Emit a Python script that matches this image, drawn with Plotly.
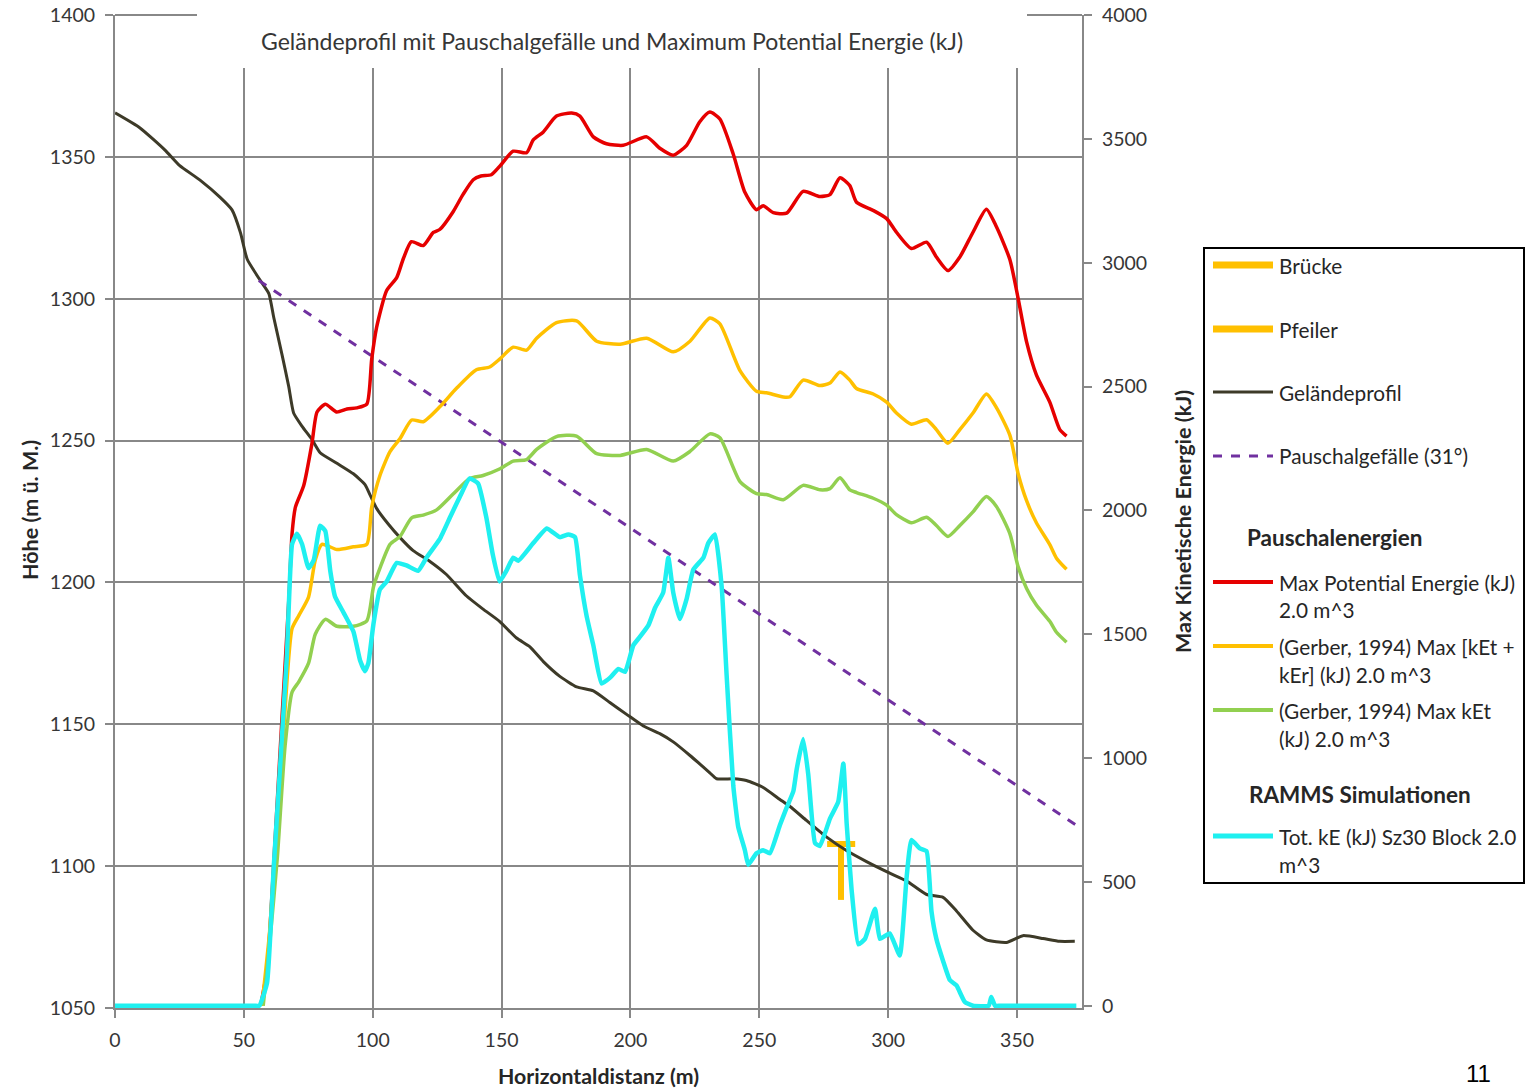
import plotly.graph_objects as go

# ---------------- data ----------------
terrain_x = [0, 9.7, 19.4, 25, 33, 40.7, 45.4, 48.7, 51.3, 56.4, 59.7, 61.6, 64.8, 67.4, 69.3, 72.6, 76.4,
             79.6, 86.1, 92.5, 97, 99, 101.5, 106.1, 110.6, 115.7, 122.2, 128.6, 136.3, 142.8, 149.2,
             155.8, 161, 166.2, 172.6, 179.1, 185.6, 192, 198.5, 205, 211.4, 216.6, 223.1, 230.8, 233.4,
             239.9, 245, 251.5, 258, 261.9, 268.3, 276, 283.8, 291.6, 300, 307.1, 314.9, 321.3, 326.5,
             332.9, 338.1, 345.9, 352.3, 360.1, 366.5, 372.4]
terrain_h = [1365.5, 1360.2, 1352.4, 1347, 1341.8, 1335.8, 1331.3, 1323.2, 1313.9, 1306.4, 1301.8, 1293.4,
             1280.3, 1269.1, 1259.7, 1255, 1250.4, 1245.7, 1242, 1238.3, 1234.5, 1230.8, 1226.1, 1220.5,
             1215.8, 1211.2, 1207.4, 1202.8, 1195.3, 1190.6, 1186.3, 1180.4, 1177.3, 1172.1, 1166.9,
             1163.2, 1161.8, 1157.7, 1153.5, 1149.4, 1146.7, 1143.8, 1139, 1132.9, 1130.8, 1130.8, 1130.2,
             1127.7, 1123.5, 1121, 1116.1, 1110.3, 1105.5, 1101.6, 1097.8, 1094.8, 1090, 1089, 1084.2,
             1077.4, 1074, 1073.1, 1075.5, 1074.5, 1073.5, 1073.5]

pauschal_x = [55.8, 375.0]
pauschal_h = [1306.4, 1113.2]

bruecke_x = [276.3, 287.2]
bruecke_h = [1107.8, 1107.8]
pfeiler_x = [281.7, 281.7]
pfeiler_h = [1107.8, 1088.1]

epot_x = [56.5, 59, 62, 65, 67.5, 68.7, 70, 73.2, 76.4, 78.4, 81.6, 86, 90, 93.8, 97.7, 99.6, 101.5, 105.4,
          109.3, 111.9, 115, 119.6, 123.5, 126, 131.2, 135, 139, 142, 146, 149.4, 154.5, 159.7, 162.3,
          166.2, 171.3, 177.2, 180.4, 185.6, 190.7, 197.2, 206.3, 211.4, 216.6, 221.8, 226.9, 230.8,
          234.7, 239.9, 244.4, 248.9, 251.5, 255.4, 260.6, 267, 273.5, 277.4, 281.3, 285.1, 287.7, 294.2,
          299.4, 303.2, 309, 314.9, 318.7, 323.2, 327.8, 332.9, 338.1, 342, 347.2, 350.4, 353.7, 357.5,
          362.7, 366.6, 369.2]
epot_e = [0, 150, 650, 1200, 1650, 1906, 2013, 2099, 2269, 2397, 2429, 2397, 2409, 2414, 2429, 2610, 2739,
          2888, 2940, 3017, 3085, 3069, 3122, 3134, 3206, 3275, 3335, 3350, 3355, 3391, 3450, 3444, 3496,
          3528, 3592, 3604, 3592, 3508, 3480, 3474, 3508, 3462, 3434, 3474, 3569, 3608, 3580, 3438, 3284,
          3214, 3230, 3202, 3200, 3288, 3267, 3275, 3343, 3311, 3244, 3211, 3178, 3123, 3057, 3083, 3023,
          2968, 3023, 3123, 3216, 3145, 3013, 2857, 2680, 2547, 2437, 2326, 2300]

ktr_x = [57, 60, 63, 66, 68.7, 71.3, 75.1, 77.7, 80.3, 86.1, 92.5, 97.7, 99.6, 102.8, 106.7, 110.6, 115.1,
         119.6, 126, 132.5, 140.2, 145.4, 149.4, 154.5, 159.7, 163.6, 171.3, 179.1, 186.9, 196, 206.3,
         216.6, 223.1, 230.8, 234.7, 242.5, 248.9, 252.8, 259.3, 261.9, 267, 273.5, 277.4, 281.3, 285.1,
         287.7, 294.2, 299.4, 303.2, 309, 314.9, 318.7, 323.2, 327.8, 332.9, 338.1, 342, 347.2, 350.4,
         353.7, 357.5, 362.7, 365.3, 369.2]
ktr_e = [0, 300, 750, 1200, 1523, 1575, 1650, 1800, 1863, 1842, 1853, 1863, 2013, 2141, 2237, 2290, 2365,
         2358, 2418, 2493, 2568, 2579, 2612, 2659, 2647, 2695, 2758, 2765, 2683, 2671, 2695, 2640, 2683,
         2777, 2753, 2564, 2481, 2475, 2458, 2459, 2526, 2504, 2514, 2559, 2526, 2492, 2470, 2437, 2393,
         2348, 2366, 2326, 2271, 2326, 2393, 2470, 2415, 2304, 2149, 2039, 1950, 1862, 1807, 1762]

kt_x = [57.5, 60, 63, 66, 68.7, 71.3, 75.1, 77.7, 81.6, 86.1, 92.5, 97.7, 100.3, 102.8, 106.7, 110.6, 115.1,
        119.6, 124.8, 131.2, 137.6, 142.8, 149.4, 154.5, 159.7, 163.6, 171.3, 179.1, 186.9, 196, 206.3,
        216.6, 223.1, 230.8, 234.7, 242.5, 248.9, 252.8, 259.3, 267, 273.5, 277.4, 281.3, 285.1, 287.7,
        294.2, 299.4, 303.2, 309, 314.9, 318.7, 323.2, 327.8, 332.9, 338.1, 342, 347.2, 350.4, 353.7,
        357.5, 362.7, 365.3, 369.2]
kt_e = [0, 250, 600, 1050, 1266, 1308, 1383, 1500, 1560, 1532, 1532, 1554, 1692, 1767, 1863, 1895, 1970,
        1981, 2002, 2066, 2129, 2141, 2168, 2199, 2205, 2246, 2298, 2300, 2229, 2222, 2246, 2199, 2238,
        2309, 2293, 2116, 2068, 2064, 2043, 2101, 2083, 2088, 2132, 2083, 2072, 2049, 2021, 1983, 1950,
        1972, 1939, 1895, 1939, 1994, 2056, 2016, 1906, 1773, 1685, 1618, 1552, 1508, 1468]

ramms_x = [0, 30, 54, 56, 59, 61.6, 64.2, 66.7, 68.7, 70.6, 72.6, 75.1, 77.1, 79.6, 81.6, 83.5, 85.4, 88.7,
           92.5, 95.1, 97, 98.3, 100.3, 102.8, 105.4, 109.3, 113.1, 117.6, 120.9, 126, 129.9, 133.8, 137.6,
           140.9, 144.1, 146.6, 149.2, 151.9, 154.5, 156.5, 162.3, 167.5, 172.6, 175.9, 178.5, 180.4, 183,
           185.6, 188.8, 192.1, 195.3, 197.9, 201.1, 203.7, 207, 209.6, 212.7, 214.7, 216.6, 219.2, 221.8,
           224.4, 228.3, 230.2, 232.8, 235.4, 237.3, 239.9, 241.8, 244.4, 245.7, 248.9, 251.5, 254.1, 258,
           260.6, 263.2, 264.5, 267, 269, 271.6, 273.5, 277.4, 280.6, 282.6, 283.9, 285.8, 288.4, 291,
           294.9, 296.8, 300.6, 304.5, 307.1, 309, 312.3, 314.9, 316.8, 318.7, 321.3, 323.9, 326.5, 329.7,
           332.9, 339, 340, 341.5, 343.5, 360, 373]
ramms_e = [0, 0, 0, 0, 93, 562, 989, 1416, 1863, 1906, 1863, 1767, 1799, 1938, 1917, 1758, 1651, 1587, 1511,
           1394, 1351, 1383, 1543, 1681, 1713, 1788, 1778, 1756, 1810, 1884, 1970, 2055, 2129, 2108, 1970,
           1821, 1713, 1757, 1809, 1797, 1868, 1927, 1892, 1903, 1892, 1738, 1573, 1455, 1301, 1325, 1360,
           1348, 1455, 1490, 1537, 1608, 1668, 1809, 1668, 1561, 1643, 1761, 1809, 1868, 1903, 1691, 1337,
           888, 723, 628, 569, 616, 628, 616, 730, 800, 866, 955, 1077, 933, 657, 645, 756, 823, 978, 734,
           469, 248, 270, 392, 270, 292, 203, 513, 669, 635, 624, 381, 270, 181, 104, 82, 16, 0, 0, 35, 0,
           0, 0, 0]

x_ticks = [0, 50, 100, 150, 200, 250, 300, 350]
h_ticks = [1050, 1100, 1150, 1200, 1250, 1300, 1350, 1400]
e_ticks = [0, 500, 1000, 1500, 2000, 2500, 3000, 3500, 4000]

title_text = "Geländeprofil mit Pauschalgefälle und Maximum Potential Energie (kJ)"
x_title = "Horizontaldistanz (m)"
y_title = "Höhe (m ü. M.)"
y2_title = "Max Kinetische Energie (kJ)"

# ---------------- styles ----------------
C_BRIDGE = "#ffc000"
C_TERRAIN = "#3d3a28"
C_PURPLE = "#7030a0"
C_RED = "#e60000"
C_ORANGE = "#ffc000"
C_GREEN = "#92d050"
C_CYAN = "#1ff0f0"
GRID = "#888888"
FONT = "Lato"
TXT = "#363636"

W, H = 1532, 1089
L, R, T, B = 115, 1082, 15, 1008


def px(xp):
    return (xp - L) / (R - L)


def py(yp):
    return (B - yp) / (B - T)


fig = go.Figure()
fig.add_trace(go.Scatter(x=bruecke_x, y=bruecke_h, mode="lines", name="Brücke",
                         line=dict(color=C_BRIDGE, width=6), yaxis="y"))
fig.add_trace(go.Scatter(x=pfeiler_x, y=pfeiler_h, mode="lines", name="Pfeiler",
                         line=dict(color=C_BRIDGE, width=6), yaxis="y"))
fig.add_trace(go.Scatter(x=terrain_x, y=terrain_h, mode="lines", name="Geländeprofil",
                         line=dict(color=C_TERRAIN, width=3, shape="spline", smoothing=0.5), yaxis="y"))
fig.add_trace(go.Scatter(x=pauschal_x, y=pauschal_h, mode="lines", name="Pauschalgefälle (31°)",
                         line=dict(color=C_PURPLE, width=3, dash="dash"), yaxis="y"))
fig.add_trace(go.Scatter(x=epot_x, y=epot_e, mode="lines", name="Max Potential Energie (kJ) 2.0 m^3",
                         line=dict(color=C_RED, width=3.5, shape="spline", smoothing=0.6), yaxis="y2"))
fig.add_trace(go.Scatter(x=ktr_x, y=ktr_e, mode="lines", name="(Gerber, 1994) Max [kEt + kEr] (kJ) 2.0 m^3",
                         line=dict(color=C_ORANGE, width=3.5, shape="spline", smoothing=0.6), yaxis="y2"))
fig.add_trace(go.Scatter(x=kt_x, y=kt_e, mode="lines", name="(Gerber, 1994) Max kEt (kJ) 2.0 m^3",
                         line=dict(color=C_GREEN, width=3.5, shape="spline", smoothing=0.6), yaxis="y2"))
fig.add_trace(go.Scatter(x=ramms_x, y=ramms_e, mode="lines", name="Tot. kE (kJ) Sz30 Block 2.0 m^3",
                         line=dict(color=C_CYAN, width=4.5, shape="spline", smoothing=0.4), yaxis="y2"))

axis_common = dict(showline=True, linecolor=GRID, linewidth=2, ticks="outside", ticklen=8,
                   tickcolor=GRID, tickwidth=2, zeroline=False, automargin=False,
                   tickfont=dict(family=FONT, size=19.5, color=TXT))

fig.update_layout(
    width=W, height=H,
    margin=dict(l=L, r=W - R, t=T, b=H - B, pad=0, autoexpand=False),
    paper_bgcolor="white", plot_bgcolor="white",
    showlegend=False,
    xaxis=dict(range=[0, 375.2], tickvals=x_ticks, showgrid=True, gridcolor=GRID, gridwidth=2,
               ticklabelstandoff=6, **axis_common),
    yaxis=dict(range=[1050, 1400], tickvals=h_ticks, showgrid=True, gridcolor=GRID, gridwidth=2,
               ticklabelstandoff=6, **axis_common),
    yaxis2=dict(range=[-9, 4000], tickvals=e_ticks, overlaying="y", side="right", showgrid=False,
                ticklabelstandoff=6, **axis_common),
)

shapes = []
# top grid line (1400) – partially hidden by the title box
shapes.append(dict(type="line", xref="paper", yref="paper", x0=0, x1=1, y0=1, y1=1,
                   line=dict(color=GRID, width=2), layer="below"))
# white box behind the chart title (hides grid lines there)
shapes.append(dict(type="rect", xref="paper", yref="paper", x0=px(197), x1=px(1027), y0=py(68), y1=py(8),
                   fillcolor="white", line=dict(width=0), layer="above"))
# legend frame
shapes.append(dict(type="rect", xref="paper", yref="paper", x0=px(1204), x1=px(1524), y0=py(883), y1=py(248),
                   fillcolor="rgba(0,0,0,0)", line=dict(color="black", width=2), layer="above"))

annotations = []


def txt(x, y, s, size=20.8, bold=False, anchor="left", color="#262626", angle=0, family=FONT, yanchor="middle"):
    annotations.append(dict(x=px(x), y=py(y), xref="paper", yref="paper", text=s, showarrow=False,
                            xanchor=anchor, yanchor=yanchor, textangle=angle,
                            font=dict(family=family, size=size, color=color,
                                      weight="bold" if bold else "normal")))


legend_items = [
    (265, ["Brücke"], C_BRIDGE, 7, "solid"),
    (329, ["Pfeiler"], C_BRIDGE, 7, "solid"),
    (392, ["Geländeprofil"], C_TERRAIN, 3, "solid"),
    (456, ["Pauschalgefälle (31°)"], C_PURPLE, 3, "dash"),
    (582, ["Max Potential Energie (kJ)", "2.0 m^3"], C_RED, 4, "solid"),
    (646, ["(Gerber, 1994) Max [kEt +", "kEr] (kJ) 2.0 m^3"], C_ORANGE, 4, "solid"),
    (710, ["(Gerber, 1994) Max kEt", "(kJ) 2.0 m^3"], C_GREEN, 4, "solid"),
    (836, ["Tot. kE (kJ) Sz30 Block 2.0", "m^3"], C_CYAN, 5, "solid"),
]
for yy, lines, col, w, dash in legend_items:
    shapes.append(dict(type="line", xref="paper", yref="paper", x0=px(1213), x1=px(1273), y0=py(yy), y1=py(yy),
                       line=dict(color=col, width=w, dash=dash), layer="above"))
    for i, s in enumerate(lines):
        txt(1277, yy + 28 * i, s)

txt(1245, 537, "Pauschalenergien", size=22.5, bold=True)
txt(1247, 794, "RAMMS Simulationen", size=22.5, bold=True)

# chart title and axis titles
txt(612, 41, title_text, size=23, anchor="center", color=TXT)
txt(598, 1076, x_title, size=21.3, bold=True, anchor="center")
txt(30, 510, y_title, size=21.5, bold=True, anchor="center", angle=-90)
txt(1183, 522, y2_title, size=21.5, bold=True, anchor="center", angle=-90)
# page number
txt(1478, 1089, "11", size=24, anchor="center", color="black", family="Liberation Sans", yanchor="bottom")

fig.update_layout(shapes=shapes, annotations=annotations)
fig.write_html("out.html")
